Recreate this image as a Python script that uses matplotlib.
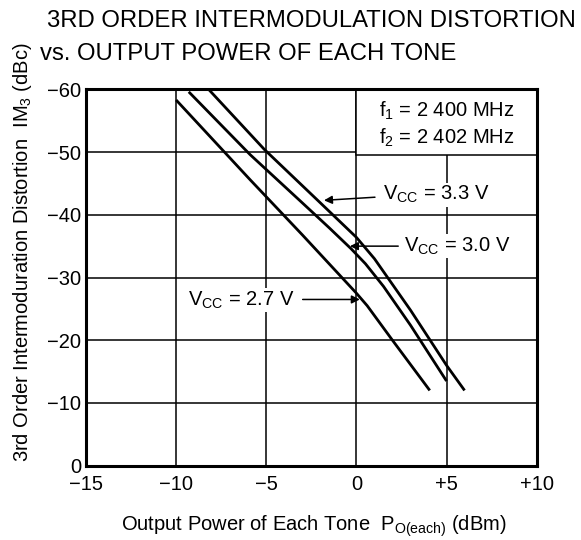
import matplotlib
matplotlib.use("Agg")
import matplotlib.pyplot as plt
from matplotlib.patches import Rectangle

plt.rcParams["font.family"] = ["Liberation Sans", "DejaVu Sans"]
plt.rcParams["mathtext.fontset"] = "custom"
plt.rcParams["mathtext.rm"] = "Liberation Sans"
plt.rcParams["mathtext.it"] = "Liberation Sans:italic"

# curvas (Pout em dBm, IM3 em dBc)
pout_33 = [-8.2, -5.1, -2.0, -0.8, 0.0, 1.0, 3.0, 5.0, 6.0]
im3_33 = [-60.0, -50.4, -41.9, -38.6, -36.4, -33.0, -24.8, -16.0, -12.0]

pout_30 = [-9.3, -5.9, -3.0, -1.5, -0.3, 0.5, 1.5, 3.0, 5.0]
im3_30 = [-59.6, -49.6, -41.9, -37.9, -34.6, -32.2, -28.6, -22.4, -13.5]

pout_27 = [-10.0, -5.9, -3.0, -1.0, 0.0, 0.6, 2.0, 4.07]
im3_27 = [-58.3, -45.6, -36.8, -30.6, -27.5, -25.5, -20.0, -12.0]

x_ticks = [-15, -10, -5, 0, 5, 10]
x_labels = ["\u221215", "\u221210", "\u22125", "0", "+5", "+10"]
y_ticks = [0, -10, -20, -30, -40, -50, -60]
y_labels = ["0", "\u221210", "\u221220", "\u221230", "\u221240", "\u221250", "\u221260"]


def main():
    fig = plt.figure(figsize=(5.81, 5.40), dpi=100)
    ax = fig.add_axes([0.148, 0.1376, 0.7757, 0.697])

    for x, y in [(pout_33, im3_33), (pout_30, im3_30), (pout_27, im3_27)]:
        ax.plot(x, y, color="black", lw=2.0, zorder=3, solid_capstyle="butt",
                solid_joinstyle="round")

    ax.set_xlim(-15, 10)
    ax.set_ylim(0, -60)
    ax.set_xticks(x_ticks)
    ax.set_xticklabels(x_labels)
    ax.set_yticks(y_ticks)
    ax.set_yticklabels(y_labels)
    ax.tick_params(length=0, labelsize=14.5)
    ax.tick_params(axis="x", pad=7)
    ax.tick_params(axis="y", pad=3.5)
    ax.grid(True, color="black", lw=1.1)
    ax.set_axisbelow(True)
    for s in ax.spines.values():
        s.set_linewidth(2.2)

    # caixa com as frequencias
    ax.add_patch(Rectangle((0, -60), 10, 10.45, facecolor="white",
                           edgecolor="black", lw=1.1, zorder=2))
    ax.text(5, -55.6, "f$_1$ = 2 400 MHz", ha="center", va="baseline",
            fontsize=14.5, zorder=4)
    ax.text(5, -51.4, "f$_2$ = 2 402 MHz", ha="center", va="baseline",
            fontsize=14.5, zorder=4)

    seta = dict(arrowstyle="-|>", color="black", lw=1.1, mutation_scale=12,
                shrinkA=0, shrinkB=0)
    fundo = dict(facecolor="white", edgecolor="none", pad=1.0)

    ax.annotate("", xy=(-1.80, -42.3), xytext=(1.03, -42.8), arrowprops=seta, zorder=4)
    ax.text(4.4, -43.2, "V$_{\\rm CC}$ = 3.3 V", ha="center", va="center",
            fontsize=14.5, bbox=fundo, zorder=4)

    ax.annotate("", xy=(-0.36, -35.0), xytext=(2.32, -35.0), arrowprops=seta, zorder=4)
    ax.text(5.6, -35.0, "V$_{\\rm CC}$ = 3.0 V", ha="center", va="center",
            fontsize=14.5, bbox=fundo, zorder=4)

    ax.annotate("", xy=(0.19, -26.5), xytext=(-2.98, -26.5), arrowprops=seta, zorder=4)
    ax.text(-6.4, -26.4, "V$_{\\rm CC}$ = 2.7 V", ha="center", va="center",
            fontsize=14.5, bbox=fundo, zorder=4)

    fig.text(47 / 581, 1 - 27 / 540, "3RD ORDER INTERMODULATION DISTORTION",
             va="baseline", ha="left", fontsize=17.2)
    fig.text(40 / 581, 1 - 60 / 540, "vs. OUTPUT POWER OF EACH TONE",
             va="baseline", ha="left", fontsize=17.2)

    fig.text(23 / 581, 1 - 462 / 540,
             "3rd Order Intermoduration Distortion  IM$_3$ (dBc)",
             rotation=90, ha="center", va="bottom", fontsize=14.5)
    fig.text(314 / 581, 1 - 531 / 540,
             "Output Power of Each Tone  P$_{\\rm O(each)}$ (dBm)",
             ha="center", va="baseline", fontsize=14.5)

    fig.savefig("out.png", dpi=100)


if __name__ == "__main__":
    main()
